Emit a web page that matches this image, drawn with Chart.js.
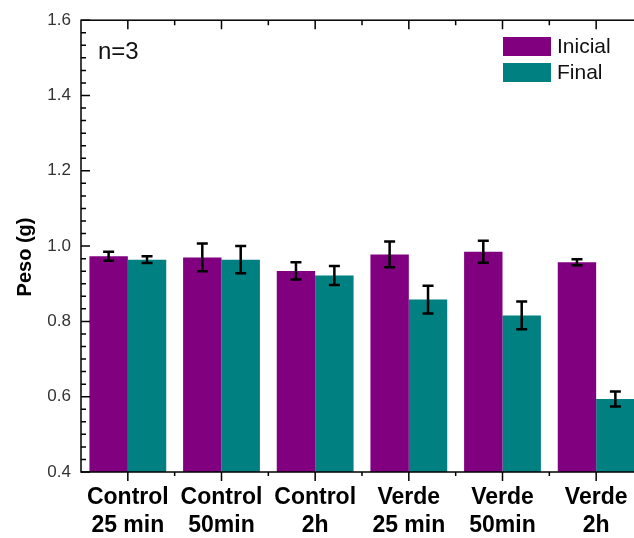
<!DOCTYPE html>
<html>
<head>
<meta charset="utf-8">
<script src="https://cdn.jsdelivr.net/npm/chart.js@4.4.1/dist/chart.umd.min.js"></script>
<style>
  html, body { margin: 0; padding: 0; background: #fff; overflow: hidden; }
  #wrap { width: 660px; height: 538px; }
</style>
</head>
<body>
<div id="wrap"><canvas id="grafico" width="660" height="538"></canvas></div>
<script>
// datos
const categorias = [
  ['Control', '25 min'], ['Control', '50min'], ['Control', '2h'],
  ['Verde', '25 min'], ['Verde', '50min'], ['Verde', '2h']
];
const inicial    = [0.973, 0.970, 0.934, 0.978, 0.985, 0.957];
const inicialErr = [0.012, 0.037, 0.023, 0.034, 0.029, 0.008];
const final      = [0.964, 0.964, 0.922, 0.858, 0.816, 0.594];
const finalErr   = [0.009, 0.036, 0.025, 0.037, 0.037, 0.020];
const yMin = 0.4, yMax = 1.6, yPaso = 0.2;
const tituloY = 'Peso (g)';
const nota = 'n=3';

const FUENTE = '"Liberation Sans", Arial, sans-serif';
const MORADO = '#800080';
const VERDE  = '#008080';

// barras de error
const barrasError = {
  id: 'barrasError',
  afterDatasetsDraw(chart) {
    const ctx = chart.ctx;
    const y = chart.scales.y;
    ctx.save();
    ctx.strokeStyle = '#000';
    ctx.lineWidth = 2.5;
    chart.data.datasets.forEach((ds, i) => {
      const meta = chart.getDatasetMeta(i);
      meta.data.forEach((bar, j) => {
        const v = ds.data[j], e = ds.errores[j];
        const y1 = y.getPixelForValue(v + e);
        const y2 = y.getPixelForValue(v - e);
        ctx.beginPath();
        ctx.moveTo(bar.x, y1); ctx.lineTo(bar.x, y2);
        ctx.moveTo(bar.x - 5.5, y1); ctx.lineTo(bar.x + 5.5, y1);
        ctx.moveTo(bar.x - 5.5, y2); ctx.lineTo(bar.x + 5.5, y2);
        ctx.stroke();
      });
    });
    ctx.restore();
  }
};

// marco con marcas en los cuatro lados
const marco = {
  id: 'marco',
  afterDraw(chart) {
    const ctx = chart.ctx;
    const a = chart.chartArea;
    const x = chart.scales.x, y = chart.scales.y;
    ctx.save();
    ctx.strokeStyle = '#000';
    ctx.lineWidth = 1.5;
    ctx.strokeRect(a.left, a.top, a.right - a.left, a.bottom - a.top);
    ctx.beginPath();
    const nMen = 6;
    for (let k = 0; k <= Math.round((yMax - yMin) / yPaso) * nMen; k++) {
      const v = yMin + k * yPaso / nMen;
      const py = y.getPixelForValue(v);
      const len = k % nMen === 0 ? 9 : 5;
      ctx.moveTo(a.left, py); ctx.lineTo(a.left + len, py);
      ctx.moveTo(a.right, py); ctx.lineTo(a.right - len, py);
    }
    const ancho = (a.right - a.left) / categorias.length;
    categorias.forEach((c, i) => {
      const px = x.getPixelForValue(i);
      ctx.moveTo(px, a.bottom); ctx.lineTo(px, a.bottom + 9);
      ctx.moveTo(px, a.top); ctx.lineTo(px, a.top + 9);
      if (i > 0) {
        const pb = px - ancho / 2;
        ctx.moveTo(pb, a.bottom); ctx.lineTo(pb, a.bottom + 4);
        ctx.moveTo(pb, a.top); ctx.lineTo(pb, a.top + 5);
      }
    });
    ctx.stroke();

    // nota n=3
    ctx.fillStyle = '#111';
    ctx.font = '24px ' + FUENTE;
    ctx.textBaseline = 'middle';
    ctx.textAlign = 'left';
    ctx.fillText(nota, 98, 52);

    // leyenda
    ctx.font = '21px ' + FUENTE;
    chart.data.datasets.forEach((ds, i) => {
      const ly = 37 + i * 26;
      ctx.fillStyle = ds.backgroundColor;
      ctx.fillRect(503, ly, 48, 19);
      ctx.fillStyle = '#111';
      ctx.fillText(ds.label, 557, ly + 10);
    });

    // título del eje y
    ctx.save();
    ctx.translate(25, 257);
    ctx.rotate(-Math.PI / 2);
    ctx.textAlign = 'center';
    ctx.font = 'bold 20px ' + FUENTE;
    ctx.fillStyle = '#000';
    ctx.fillText(tituloY, 0, 0);
    ctx.restore();

    ctx.restore();
  }
};

new Chart(document.getElementById('grafico'), {
  type: 'bar',
  data: {
    labels: categorias,
    datasets: [
      { label: 'Inicial', data: inicial, errores: inicialErr, backgroundColor: MORADO,
        borderWidth: 0, categoryPercentage: 0.82, barPercentage: 1.0 },
      { label: 'Final', data: final, errores: finalErr, backgroundColor: VERDE,
        borderWidth: 0, categoryPercentage: 0.82, barPercentage: 1.0 }
    ]
  },
  options: {
    responsive: false,
    animation: false,
    devicePixelRatio: 1,
    layout: { padding: { left: 0, right: 17, top: 18, bottom: 0 } },
    plugins: { legend: { display: false }, tooltip: { enabled: false } },
    scales: {
      x: {
        grid: { display: false, drawTicks: false },
        border: { display: false },
        ticks: {
          color: '#000', padding: 12, maxRotation: 0, autoSkip: false,
          font: { family: FUENTE, size: 23, weight: 'bold', lineHeight: 1.22 }
        },
        afterFit(s) { s.height = 66; }
      },
      y: {
        min: yMin, max: yMax,
        grid: { display: false, drawTicks: false },
        border: { display: false },
        ticks: {
          stepSize: yPaso, color: '#333', padding: 10,
          font: { family: FUENTE, size: 17 },
          callback: v => Number(v).toFixed(1)
        },
        afterFit(s) { s.width = 81; }
      }
    }
  },
  plugins: [barrasError, marco]
});
</script>
</body>
</html>
